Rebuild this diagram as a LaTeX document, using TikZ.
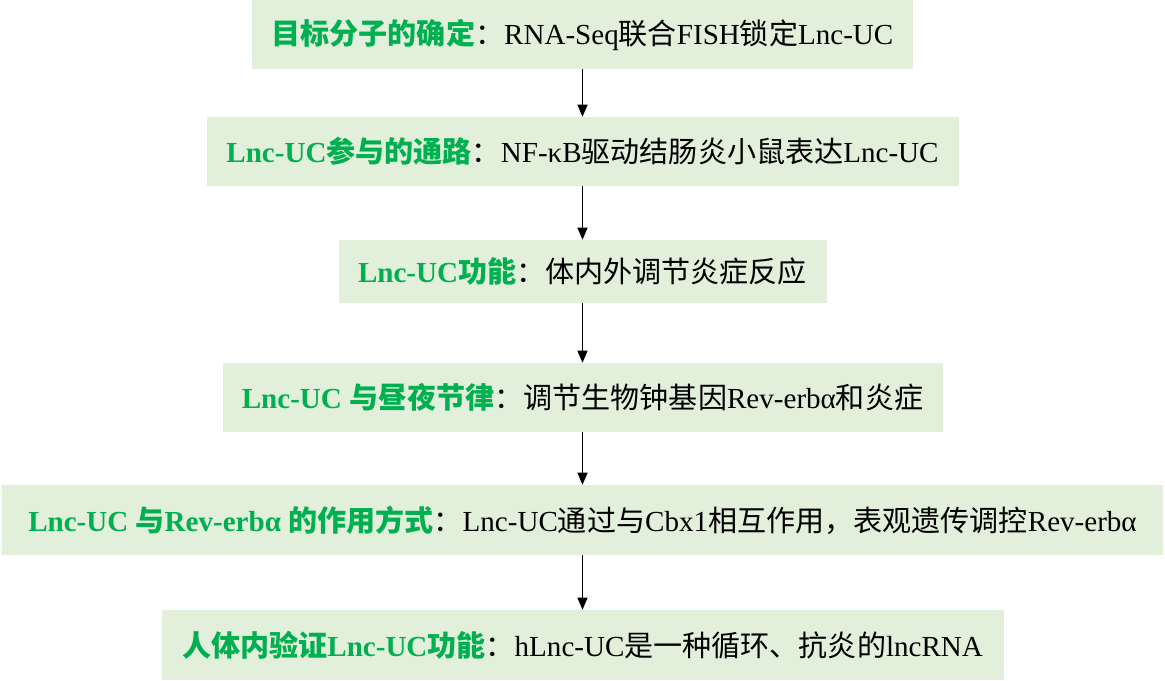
\documentclass[tikz,border=0pt]{standalone}
\usepackage{fontspec}
\setmainfont{Liberation Serif}
\newfontfamily\cjk{Noto Sans CJK SC}
\usetikzlibrary{arrows.meta}
\definecolor{ucgreen}{RGB}{0,176,80}
\definecolor{ucfill}{RGB}{226,239,218}
\newcommand{\hd}[1]{\textcolor{ucgreen}{\bfseries #1}}
\newcommand{\zh}[1]{{\cjk #1}}
\begin{document}
\begin{tikzpicture}
[x=0.75pt,y=-0.75pt
,box/.style={fill=ucfill,inner sep=0pt,minimum height=51.75pt,font=\fontsize{21.8}{26}\selectfont}
,be/.style={draw=black,line width=0.75pt,arrows={-Triangle[length=9pt,width=7.5pt]}}
]
\useasboundingbox (0,0) rectangle (1165,681);
\node[box,minimum width=495.75pt] (b1) at (582.5,34.5) {\hd{\zh{目标分子的确定}}\zh{：}RNA-Seq\zh{联合}FISH\zh{锁定}Lnc-UC};
\node[box,minimum width=564pt] (b2) at (582.5,151.5) {\hd{Lnc-UC\zh{参与的通路}}\zh{：}NF-κB\zh{驱动结肠炎小鼠表达}Lnc-UC};
\node[box,minimum width=366pt,minimum height=47.25pt] (b3) at (582.5,271.5) {\hd{Lnc-UC\zh{功能}}\zh{：体内外调节炎症反应}};
\node[box,minimum width=540pt] (b4) at (582.5,397.5) {\hd{Lnc-UC \zh{与昼夜节律}}\zh{：调节生物钟基因}Rev-erbα\zh{和炎症}};
\node[box,minimum width=870.75pt,minimum height=52.5pt] (b5) at (582.5,520) {\hd{Lnc-UC \zh{与}Rev-erbα \zh{的作用方式}}\zh{：}Lnc-UC\zh{通过与}Cbx1\zh{相互作用，表观遗传调控}Rev-erbα};
\node[box,minimum width=631.5pt,minimum height=52.5pt] (b6) at (582.5,645) {\hd{\zh{人体内验证}Lnc-UC\zh{功能}}\zh{：}hLnc-UC\zh{是一种循环、抗炎的}lncRNA};
\draw[be] (b1) -- (b2);
\draw[be] (b2) -- (b3);
\draw[be] (b3) -- (b4);
\draw[be] (b4) -- (b5);
\draw[be] (b5) -- (b6);
\end{tikzpicture}
\end{document}
